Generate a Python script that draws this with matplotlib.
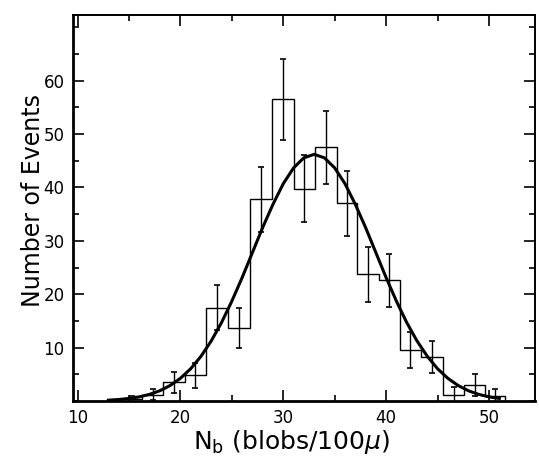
import matplotlib.pyplot as plt
from matplotlib.ticker import MultipleLocator

# Границы бинов гистограммы
bin_edges = [14.2, 16.3, 18.3, 20.4, 22.5, 24.6, 26.8, 28.9, 31.0, 33.1,
             35.2, 37.2, 39.3, 41.3, 43.4, 45.5, 47.6, 49.6, 51.6]
# Число событий в каждом бине
counts = [0.4, 1.2, 3.5, 4.8, 17.5, 13.7, 37.8, 56.5, 39.8, 47.5,
          37.0, 23.7, 22.6, 9.5, 8.2, 1.2, 3.0, 1.0]
# Полуширина погрешностей
errors = [0.5, 1.1, 2.0, 2.3, 4.2, 3.8, 6.1, 7.6, 6.3, 6.9,
          6.1, 5.1, 5.0, 3.4, 3.0, 1.4, 2.0, 1.3]

# Точки аппроксимирующей кривой
curve_x = [13, 14, 15, 16, 17, 18, 19, 20, 21, 22, 23, 24, 25, 26, 27, 28, 29, 30,
           31, 32, 33, 34, 35, 36, 37, 38, 39, 40, 41, 42, 43, 44, 45, 46, 47, 48,
           49, 50, 51]
curve_y = [0.16, 0.28, 0.48, 0.78, 1.24, 1.92, 2.90, 4.25, 6.04, 8.37, 11.25, 14.7,
           18.7, 23.1, 27.8, 32.5, 36.85, 40.7, 43.66, 45.55, 46.2, 45.55, 43.66,
           40.7, 36.85, 32.5, 27.8, 23.1, 18.7, 14.7, 11.25, 8.37, 6.04, 4.25, 2.90,
           1.92, 1.24, 0.78, 0.48]

x_ticks = [10, 20, 30, 40, 50]
y_ticks = [10, 20, 30, 40, 50, 60]

fig = plt.figure(figsize=(5.39, 4.67), dpi=100)
ax = fig.add_axes([0.1354, 0.1413, 0.857, 0.8266])

# Гистограмма и погрешности
ax.stairs(counts, bin_edges, color='black', linewidth=1.0, baseline=0)
centers = [(bin_edges[i] + bin_edges[i + 1]) / 2 for i in range(len(counts))]
ax.errorbar(centers, counts, yerr=errors, fmt='none', ecolor='black',
            elinewidth=1.0, capsize=2.5, capthick=1.2)

# Кривая
ax.plot(curve_x, curve_y, color='black', linewidth=2.2)

# Оси
ax.set_xlim(9.56, 54.46)
ax.set_ylim(0, 72.3)
ax.set_xticks(x_ticks)
ax.set_yticks(y_ticks)
ax.xaxis.set_minor_locator(MultipleLocator(5))
ax.yaxis.set_minor_locator(MultipleLocator(5))
ax.tick_params(which='both', direction='in', top=True, right=True,
               labelsize=12, width=1.2)
ax.tick_params(which='major', length=8, pad=6)
ax.tick_params(which='minor', length=4.5)

for side in ['left', 'bottom']:
    ax.spines[side].set_linewidth(2.0)
for side in ['top', 'right']:
    ax.spines[side].set_linewidth(1.4)

ax.set_xlabel(r"N$_\mathregular{b}$ (blobs/100$\mu$)", fontsize=18)
ax.set_ylabel("Number of Events", fontsize=17)
ax.xaxis.set_label_coords(0.474, -0.07)
ax.yaxis.set_label_coords(-0.06, 0.52)

plt.savefig("out.png", dpi=100)
